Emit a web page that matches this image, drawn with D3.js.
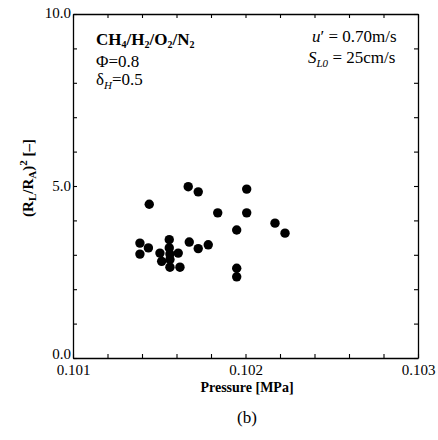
<!DOCTYPE html>
<html><head><meta charset="utf-8">
<script src="https://cdn.jsdelivr.net/npm/d3@7"></script>
<style>
body{margin:0;background:#fff;}
svg text{font-family:"Liberation Serif","DejaVu Serif",serif !important;fill:#000;}
</style></head>
<body><svg id="c" width="438" height="440" style="font-family:'Liberation Serif',serif"></svg>
<script>
const pressure = [0.101668,0.101726,0.102007,0.101442,0.101839,0.102007,0.102171,0.102229,0.101949,
  0.101388,0.101437,0.101388,0.101558,0.101558,0.101504,0.101610,0.101514,0.101562,0.101562,0.101620,
  0.101674,0.101726,0.101784,0.101949,0.101949,0.101562];
const ratio = [4.98,4.83,4.91,4.47,4.22,4.22,3.92,3.63,3.72,
  3.34,3.20,3.02,3.44,3.20,3.05,3.05,2.81,2.86,2.64,2.64,
  3.37,3.18,3.29,2.61,2.36,3.02];
const xTickLabels = ["0.101","0.102","0.103"];
const yTickLabels = ["0.0","5.0","10.0"];

const FONT = "'Liberation Serif','DejaVu Serif',serif";
const svg = d3.select("#c");
const L=73,R=418,T=14,B=358;
const x = d3.scaleLinear().domain([0.101,0.103]).range([L,R]);
const y = d3.scaleLinear().domain([0,10]).range([B,T]);

const xt = d3.range(0,11).map(i=>0.101+i*0.0002);
const yt = d3.range(0,11);
const fx = v => { const s=v.toFixed(3); return xTickLabels.includes(s) && Math.abs(v*1000-Math.round(v*1000))<1e-6 ? s : ""; };
const fy = v => { const s=v.toFixed(1); return yTickLabels.includes(s) ? s : ""; };

function style(g){ g.attr("font-family",FONT);
  g.select(".domain").attr("stroke","#000").attr("stroke-width",1.3);
  g.selectAll(".tick line").attr("stroke","#000").attr("stroke-width",1.1);
  g.selectAll("text").style("font-size","15px").style("font-family",FONT); }

const gb = svg.append("g").attr("transform",`translate(0,${B})`)
  .call(d3.axisBottom(x).tickValues(xt).tickSize(-4).tickSizeOuter(0).tickFormat(fx)).call(style);
gb.selectAll("text").attr("dy","0.71em").attr("y",6);
svg.append("g").attr("transform",`translate(0,${T})`)
  .call(d3.axisTop(x).tickValues(xt).tickSize(-4).tickSizeOuter(0).tickFormat("")).call(style);
const gl = svg.append("g").attr("transform",`translate(${L},0)`)
  .call(d3.axisLeft(y).tickValues(yt).tickSize(-4).tickSizeOuter(0).tickFormat(fy)).call(style);
gl.selectAll("text").attr("x",-2);
gl.selectAll(".tick").filter(d=>d===0).select("text").attr("dy","0.05em");
gl.selectAll(".tick").filter(d=>d===10).select("text").attr("dy","0.2em");
svg.append("g").attr("transform",`translate(${R},0)`)
  .call(d3.axisRight(y).tickValues(yt).tickSize(-4).tickSizeOuter(0).tickFormat("")).call(style);

svg.append("g").selectAll("circle").data(pressure.map((p,i)=>[p,ratio[i]])).join("circle")
  .attr("cx",d=>x(d[0])).attr("cy",d=>y(d[1])).attr("r",4.7).attr("fill","#000");

// annotations
function T_(xp,yp,size){ return svg.append("text").attr("x",xp).attr("y",yp).style("font-size",size+"px").style("font-family",FONT); }
const t1 = T_(96,45,17).style("font-weight","bold");
[["CH",0],["4",1],["/H",0],["2",1],["/O",0],["2",1],["/N",0],["2",1]].forEach(([s,sub],i)=>{
  t1.append("tspan").text(s).attr("dy",sub?3:(i?-3:0)).style("font-size",sub?"10px":"17px");
});
T_(96,67,17).text("Φ=0.8");
const t3 = T_(96,85,17);
t3.append("tspan").text("δ");
t3.append("tspan").text("H").attr("dy",4).style("font-size","11px").style("font-style","italic");
t3.append("tspan").text("=0.5").attr("dy",-4);

const t4 = T_(312,42,17);
t4.append("tspan").text("u").style("font-style","italic");
t4.append("tspan").text("′ = 0.70m/s");
const t5 = T_(308,63,17);
t5.append("tspan").text("S").style("font-style","italic");
t5.append("tspan").text("L0").attr("dy",4).style("font-size","11px").style("font-style","italic");
t5.append("tspan").text(" = 25cm/s").attr("dy",-4);

// axis titles
T_(247,392,14).attr("text-anchor","middle").style("font-weight","bold").text("Pressure [MPa]");
T_(247,423,17).attr("text-anchor","middle").text("(b)");
const yl = svg.append("text").attr("transform","translate(33,178) rotate(-90)").attr("text-anchor","middle")
  .style("font-size","15px").style("font-weight","bold").style("font-family",FONT);
yl.append("tspan").text("(R");
yl.append("tspan").text("L").attr("dy",3).style("font-size","11px");
yl.append("tspan").text("/R").attr("dy",-3);
yl.append("tspan").text("A").attr("dy",3).style("font-size","11px");
yl.append("tspan").text(")").attr("dy",-3);
yl.append("tspan").text("2").attr("dy",-6).style("font-size","11px");
yl.append("tspan").text(" [–]").attr("dy",6);
</script></body></html>
